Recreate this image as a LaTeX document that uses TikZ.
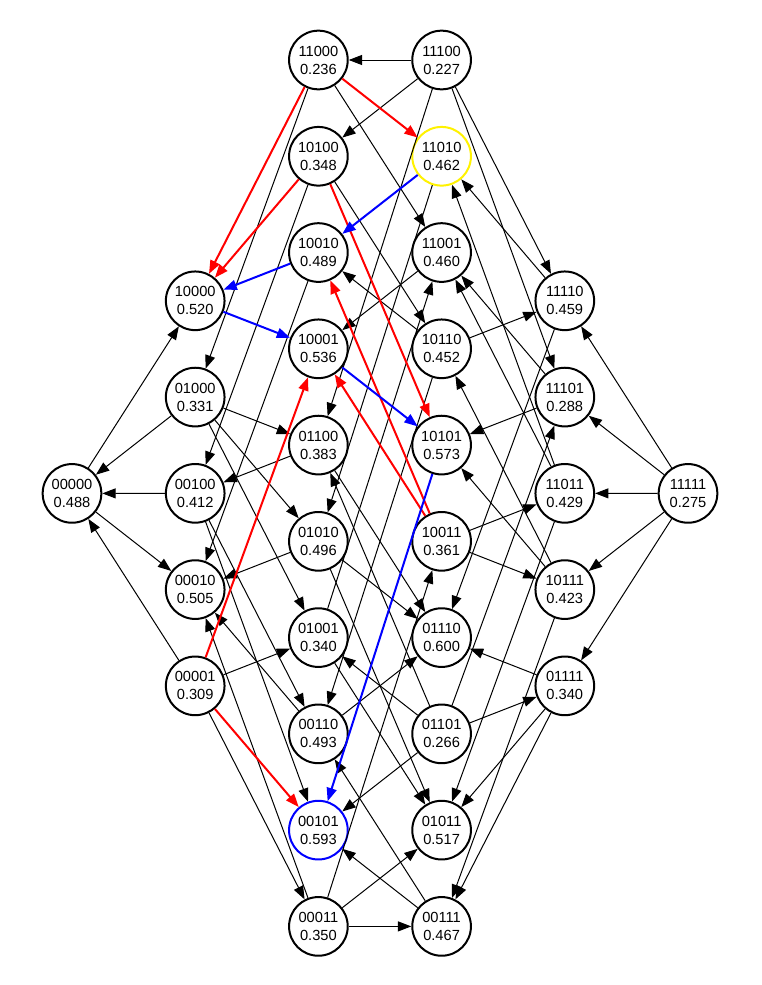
\documentclass[tikz,border=0pt]{standalone}
\usepackage{fontspec}
\setmainfont{Liberation Sans}
\usepackage{xcolor}
\usetikzlibrary{arrows.meta, positioning}

\begin{document}
\begin{tikzpicture}[x=0.75pt, y=-0.75pt, >={Triangle[length=10pt, width=7.5pt]}, node distance=26.7pt]
    % Styles
    \tikzstyle{state} = [circle, draw=black, line width=1.5pt, outer sep=0.75pt, inner sep=0pt, minimum size=44pt, align=center, font=\fontsize{11}{13.5}\selectfont]
    \tikzstyle{move} = [->, line width=0.75pt]
    \tikzstyle{redmove} = [->, draw=red, line width=1.5pt]
    \tikzstyle{bluemove} = [->, draw=blue, line width=1.5pt]

    \path[use as bounding box, fill=white] (0,0) rectangle (761,985);

    % Nodes
    \node (s00000) [state] at (72,493.4) {00000\\0.488};

    \node (s10000) [state] at (195.2,300.8) {10000\\0.520};
    \node (s01000) [state, below=of s10000] {01000\\0.331};
    \node (s00100) [state, below=of s01000] {00100\\0.412};
    \node (s00010) [state, below=of s00100] {00010\\0.505};
    \node (s00001) [state, below=of s00010] {00001\\0.309};

    \node (s11000) [state] at (318.4,60) {11000\\0.236};
    \node (s10100) [state, below=of s11000] {10100\\0.348};
    \node (s10010) [state, below=of s10100] {10010\\0.489};
    \node (s10001) [state, below=of s10010] {10001\\0.536};
    \node (s01100) [state, below=of s10001] {01100\\0.383};
    \node (s01010) [state, below=of s01100] {01010\\0.496};
    \node (s01001) [state, below=of s01010] {01001\\0.340};
    \node (s00110) [state, below=of s01001] {00110\\0.493};
    \node (s00101) [state, draw=blue, below=of s00110] {00101\\0.593};
    \node (s00011) [state, below=of s00101] {00011\\0.350};

    \node (s11100) [state] at (441.6,60) {11100\\0.227};
    \node (s11010) [state, draw=yellow, below=of s11100] {11010\\0.462};
    \node (s11001) [state, below=of s11010] {11001\\0.460};
    \node (s10110) [state, below=of s11001] {10110\\0.452};
    \node (s10101) [state, below=of s10110] {10101\\0.573};
    \node (s10011) [state, below=of s10101] {10011\\0.361};
    \node (s01110) [state, below=of s10011] {01110\\0.600};
    \node (s01101) [state, below=of s01110] {01101\\0.266};
    \node (s01011) [state, below=of s01101] {01011\\0.517};
    \node (s00111) [state, below=of s01011] {00111\\0.467};

    \node (s11110) [state] at (564.8,300.8) {11110\\0.459};
    \node (s11101) [state, below=of s11110] {11101\\0.288};
    \node (s11011) [state, below=of s11101] {11011\\0.429};
    \node (s10111) [state, below=of s11011] {10111\\0.423};
    \node (s01111) [state, below=of s10111] {01111\\0.340};

    \node (s11111) [state] at (688,493.4) {11111\\0.275};

    % Connections
    \draw[move] (s00000) -- (s10000);
    \draw[move] (s01000) -- (s00000);
    \draw[move] (s00100) -- (s00000);
    \draw[move] (s00000) -- (s00010);
    \draw[move] (s00001) -- (s00000);

    \draw[move] (s11000) -- (s01000);
    \draw[move] (s01000) -- (s01100);
    \draw[move] (s01000) -- (s01010);
    \draw[move] (s01000) -- (s01001);
    \draw[move] (s10100) -- (s00100);
    \draw[move] (s01100) -- (s00100);
    \draw[move] (s00100) -- (s00110);
    \draw[move] (s00100) -- (s00101);
    \draw[move] (s10010) -- (s00010);
    \draw[move] (s01010) -- (s00010);
    \draw[move] (s00110) -- (s00010);
    \draw[move] (s00011) -- (s00010);
    \draw[move] (s00001) -- (s01001);
    \draw[move] (s00001) -- (s00011);

    \draw[move] (s11100) -- (s11000);
    \draw[move] (s11000) -- (s11001);
    \draw[move] (s11100) -- (s10100);
    \draw[move] (s10100) -- (s10110);
    \draw[move] (s10110) -- (s10010);
    \draw[move] (s11001) -- (s10001);
    \draw[move] (s11100) -- (s01100);
    \draw[move] (s01100) -- (s01110);
    \draw[move] (s01101) -- (s01100);
    \draw[move] (s11010) -- (s01010);
    \draw[move] (s01010) -- (s01110);
    \draw[move] (s01010) -- (s01011);
    \draw[move] (s01001) -- (s11001);
    \draw[move] (s01101) -- (s01001);
    \draw[move] (s01001) -- (s01011);
    \draw[move] (s10110) -- (s00110);
    \draw[move] (s00110) -- (s01110);
    \draw[move] (s00111) -- (s00110);
    \draw[move] (s01101) -- (s00101);
    \draw[move] (s00111) -- (s00101);
    \draw[move] (s00011) -- (s10011);
    \draw[move] (s00011) -- (s01011);
    \draw[move] (s00011) -- (s00111);

    \draw[move] (s11100) -- (s11110);
    \draw[move] (s11100) -- (s11101);
    \draw[move] (s11110) -- (s11010);
    \draw[move] (s11011) -- (s11010);
    \draw[move] (s11101) -- (s11001);
    \draw[move] (s11011) -- (s11001);
    \draw[move] (s10110) -- (s11110);
    \draw[move] (s10111) -- (s10110);
    \draw[move] (s11101) -- (s10101);
    \draw[move] (s10111) -- (s10101);
    \draw[move] (s10011) -- (s11011);
    \draw[move] (s10011) -- (s10111);
    \draw[move] (s11110) -- (s01110);
    \draw[move] (s01111) -- (s01110);
    \draw[move] (s01101) -- (s11101);
    \draw[move] (s01101) -- (s01111);
    \draw[move] (s11011) -- (s01011);
    \draw[move] (s01111) -- (s01011);
    \draw[move] (s10111) -- (s00111);
    \draw[move] (s01111) -- (s00111);

    \draw[move] (s11111) -- (s11110);
    \draw[move] (s11111) -- (s11101);
    \draw[move] (s11111) -- (s11011);
    \draw[move] (s11111) -- (s10111);
    \draw[move] (s11111) -- (s01111);

    % Paths
    \draw[redmove] (s11000) -- (s10000);
    \draw[redmove] (s10100) -- (s10000);
    \draw[redmove] (s11000) -- (s11010);
    \draw[redmove] (s10100) -- (s10101);
    \draw[redmove] (s10011) -- (s10010);
    \draw[redmove] (s10011) -- (s10001);
    \draw[redmove] (s00001) -- (s10001);
    \draw[redmove] (s00001) -- (s00101);

    \draw[bluemove] (s11010) -- (s10010);
    \draw[bluemove] (s10010) -- (s10000);
    \draw[bluemove] (s10000) -- (s10001);
    \draw[bluemove] (s10001) -- (s10101);
    \draw[bluemove] (s10101) -- (s00101);
\end{tikzpicture}
\end{document}
